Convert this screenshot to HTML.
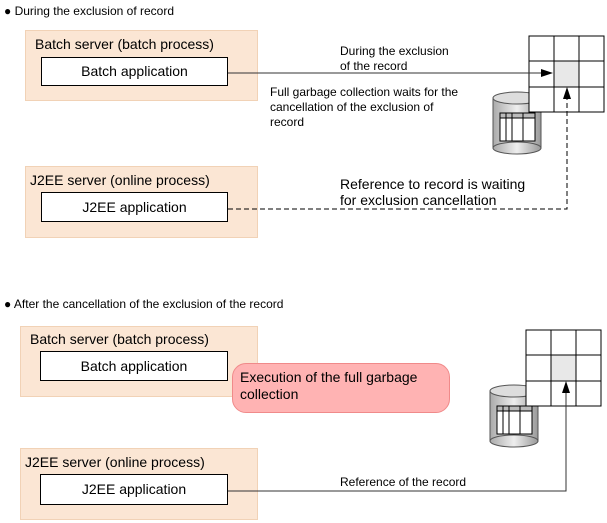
<!DOCTYPE html>
<html><head><style>
body{margin:0;width:607px;height:523px;background:#fff;position:relative;font-family:"Liberation Sans",sans-serif;color:#000;overflow:hidden}
.t{position:absolute;white-space:nowrap}
.srv{position:absolute;background:#fbe6d4;border:1px solid #f1d2b6;box-sizing:border-box}
.app{position:absolute;background:#fff;border:1px solid #000;box-sizing:border-box;text-align:center;font-size:14px}
</style></head><body>
<div class="t" style="left:4px;top:4px;font-size:12px">● During the exclusion of record</div>
<div class="srv" style="left:25px;top:30px;width:233px;height:71px"></div>
<div class="t" style="left:35px;top:36px;font-size:14px">Batch server (batch process)</div>
<div class="app" style="left:41px;top:57px;width:187px;height:29px;line-height:27px">Batch application</div>
<div class="srv" style="left:25px;top:166px;width:233px;height:72px"></div>
<div class="t" style="left:30px;top:172px;font-size:14px">J2EE server (online process)</div>
<div class="app" style="left:41px;top:192px;width:187px;height:30px;line-height:28px">J2EE application</div>
<div class="t" style="left:340px;top:44px;font-size:12px;line-height:15px">During the exclusion<br>of the record</div>
<div class="t" style="left:270px;top:85px;font-size:12px;line-height:15px">Full garbage collection waits for the<br>cancellation of the exclusion of<br>record</div>
<div class="t" style="left:340px;top:176px;font-size:14px;line-height:16px">Reference to record is waiting<br>for exclusion cancellation</div>

<div class="t" style="left:4px;top:297px;font-size:12px">● After the cancellation of the exclusion of the record</div>
<div class="srv" style="left:20px;top:326px;width:238px;height:71px"></div>
<div class="t" style="left:30px;top:331px;font-size:14px">Batch server (batch process)</div>
<div class="app" style="left:40px;top:351px;width:188px;height:30px;line-height:28px">Batch application</div>
<div class="srv" style="left:20px;top:448px;width:238px;height:72px"></div>
<div class="t" style="left:25px;top:454px;font-size:14px">J2EE server (online process)</div>
<div class="app" style="left:40px;top:474px;width:188px;height:31px;line-height:29px">J2EE application</div>
<div style="position:absolute;left:232px;top:363px;width:218px;height:50px;background:#ffb3b3;border:1px solid #f08a8a;border-radius:14px;box-sizing:border-box"></div>
<div class="t" style="left:240px;top:369px;font-size:14px;line-height:17px">Execution of the full garbage<br>collection</div>
<div class="t" style="left:340px;top:475px;font-size:12px">Reference of the record</div>

<svg width="607" height="523" style="position:absolute;left:0;top:0">
<defs>
<linearGradient id="g" x1="0" x2="1"><stop offset="0" stop-color="#aaa"/><stop offset=".5" stop-color="#eee"/><stop offset="1" stop-color="#999"/></linearGradient>
<g id="cyl">
<rect x="0" y="6" width="48" height="50" fill="url(#g)" stroke="#555"/>
<ellipse cx="24" cy="56" rx="24" ry="6" fill="url(#g)" stroke="#555"/>
<ellipse cx="24" cy="6" rx="24" ry="6" fill="#ddd" stroke="#555"/>
<rect x="7" y="21" width="35" height="28" fill="#fff" stroke="#000"/>
<rect x="7" y="21" width="35" height="5" fill="#bbb" stroke="#000"/>
<line x1="13" y1="21" x2="13" y2="49" stroke="#000"/><line x1="19" y1="21" x2="19" y2="49" stroke="#000"/><line x1="30" y1="21" x2="30" y2="49" stroke="#000"/>
</g>
<g id="grid">
<rect x="0" y="0" width="75" height="76" fill="#fff" stroke="#000"/>
<rect x="25" y="25" width="25" height="26" fill="#e8e8e8"/>
<path d="M25 0V76M50 0V76M0 25H75M0 51H75" stroke="#000" fill="none"/>
<rect x="0" y="0" width="75" height="76" fill="none" stroke="#000"/>
</g>
</defs>
<use href="#cyl" x="493" y="92"/>
<use href="#grid" x="529" y="36"/>
<use href="#cyl" x="490" y="385"/>
<use href="#grid" x="526" y="330"/>
<line x1="228" y1="73" x2="542" y2="73" stroke="#333"/>
<polygon points="541,69 553,73 541,77" fill="#000"/>
<path d="M228 209H567V98" stroke="#000" fill="none" stroke-dasharray="5,3"/>
<polygon points="563,99 567,87 571,99" fill="#000"/>
<path d="M228 491H566V392" stroke="#333" fill="none"/>
<polygon points="562,393 566,381 570,393" fill="#000"/>
</svg>
</body></html>
